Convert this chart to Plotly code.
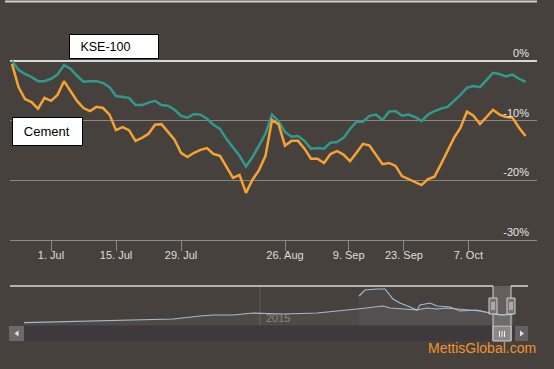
import plotly.graph_objects as go

# ---------------- data ----------------
tick_days = [6, 16, 26, 42, 51.8, 60.3, 70.2]
tick_labels = ["1. Jul", "15. Jul", "29. Jul", "26. Aug", "9. Sep", "23. Sep", "7. Oct"]

kse100 = [0, -1.5, -2.2, -2.7, -3.4, -3.4, -3.0, -2.3, -0.7, -1.3,
          -2.5, -3.5, -3.4, -3.4, -3.7, -4.4, -5.9, -6.0, -6.2, -7.4,
          -7.4, -7.0, -6.7, -7.4, -7.5, -8.2, -9.2, -9.5, -8.9, -9.0,
          -9.7, -10.7, -11.4, -13.1, -14.6, -15.9, -17.7, -16.1, -14.2, -12.2,
          -9.0, -10.1, -11.9, -12.7, -12.6, -13.4, -14.7, -14.6, -14.7, -13.7,
          -13.6, -12.9, -11.4, -10.2, -10.2, -9.2, -9.0, -9.9, -8.5, -8.4,
          -9.2, -9.0, -9.4, -10.1, -9.0, -8.4, -8.0, -7.7, -6.7, -5.7,
          -4.5, -4.2, -4.4, -3.2, -2.0, -2.2, -2.6, -2.3, -3.0, -3.5]

cement = [-0.5, -4.4, -6.4, -6.9, -8.0, -6.2, -6.7, -5.7, -3.4, -5.0,
          -6.7, -7.9, -8.4, -7.7, -7.9, -9.0, -11.6, -11.1, -11.6, -13.4,
          -12.9, -12.2, -10.7, -10.6, -11.9, -13.2, -15.4, -16.1, -15.4, -14.9,
          -14.6, -15.6, -15.9, -17.8, -19.6, -19.1, -22.1, -19.9, -18.3, -15.9,
          -9.9, -10.6, -14.2, -13.4, -13.4, -14.7, -16.4, -16.4, -17.1, -15.6,
          -15.1, -15.7, -16.8, -15.4, -13.9, -14.2, -15.7, -17.3, -17.1, -17.6,
          -19.3, -19.8, -20.3, -20.8, -19.8, -19.4, -17.3, -15.1, -12.9, -11.2,
          -8.5, -9.2, -10.6, -9.4, -8.2, -9.0, -9.4, -9.5, -11.2, -12.6]

days = list(range(len(kse100)))

y_ticks = [0, -10, -20, -30]
y_labels = ["0%", "-10%", "-20%", "-30%"]

# navigator (long history overview, arbitrary level units)
nav_t_a = [0, 69, 109, 149, 176, 189, 209, 229, 259, 293, 333, 359, 366, 383,
           393, 403, 413, 423, 433, 446, 456, 466, 479, 489]
nav_a = [2.3, 4, 5, 6, 9, 10, 10, 12, 11, 12, 16, 19, 17, 16,
         15, 17, 16, 17, 16, 15, 14, 12, 10, 11]
nav_t_b = [335, 341, 353, 361, 369, 376, 386, 393, 396, 406, 413, 426, 436,
           453, 466, 476, 489]
nav_b = [29, 35, 36, 36, 26, 22, 18, 15, 20, 22, 19, 18, 14, 15, 12, 10, 11]
nav_year_label = "2015"

# ---------------- layout helpers ----------------
W, H = 554, 369
BG = "#47413d"


def px(x):
    return x / W


def py(y):
    return 1 - y / H


def rect(x0, y0, x1, y1, fill, line=None, lw=0, layer="above"):
    return dict(type="rect", xref="paper", yref="paper",
                x0=px(x0), x1=px(x1), y0=py(y0), y1=py(y1),
                fillcolor=fill, line=dict(color=line or fill, width=lw),
                layer=layer)


def seg(x0, y0, x1, y1, color, w=1):
    return dict(type="line", xref="paper", yref="paper",
                x0=px(x0), x1=px(x1), y0=py(y0), y1=py(y1),
                line=dict(color=color, width=w))


def tri(pts, color):
    d = "M " + " L ".join(f"{px(a):.5f},{py(b):.5f}" for a, b in pts) + " Z"
    return dict(type="path", xref="paper", yref="paper", path=d,
                fillcolor=color, line=dict(color=color, width=0))


fig = go.Figure()

fig.add_trace(go.Scatter(x=days, y=kse100, mode="lines", name="KSE-100",
                         line=dict(color="#2f9a8d", width=2.5),
                         hoverinfo="skip"))
fig.add_trace(go.Scatter(x=days, y=cement, mode="lines", name="Cement",
                         line=dict(color="#f6a234", width=2.5),
                         hoverinfo="skip"))

# navigator series
fig.add_trace(go.Scatter(x=nav_t_a, y=nav_a, mode="lines", xaxis="x2", yaxis="y2",
                         line=dict(color="#a3bccd", width=1.2),
                         fill="tozeroy", fillcolor="rgba(170,200,220,0.07)",
                         hoverinfo="skip"))
fig.add_trace(go.Scatter(x=nav_t_b, y=nav_b, mode="lines", xaxis="x2", yaxis="y2",
                         line=dict(color="#a3bccd", width=1.2),
                         fill="tozeroy", fillcolor="rgba(170,200,220,0.05)",
                         hoverinfo="skip"))

shapes = [
    # thin frame line at very top
    seg(5, 1.5, 537, 1.5, "#cfcfcf", 2),
    # scrollbar track & buttons
    rect(10, 326, 528, 341, "#3d393c", layer="below"),
    rect(9, 326, 24, 341, "#6d696a"),
    tri([(18.5, 330.5), (18.5, 336.5), (14.5, 333.5)], "#e0e0e0"),
    rect(515, 326, 528, 341, "#656163"),
    tri([(520, 330.5), (520, 336.5), (524, 333.5)], "#e0e0e0"),
    # navigator year gridline
    seg(260, 286, 260, 325, "rgba(255,255,255,0.16)", 1),
    # navigator selected mask
    rect(493, 286, 511, 325, "rgba(255,255,255,0.16)"),
    # navigator outline
    seg(10, 286, 493, 286, "#d8d8d8", 1.5),
    seg(511, 286, 528, 286, "#d8d8d8", 1.5),
    seg(493, 286, 493, 341, "#d0d0d0", 1),
    seg(511, 286, 511, 341, "#d0d0d0", 1),
    # scrollbar thumb
    rect(493, 326, 511, 341, "#8b8788", "#d0d0d0", 1),
    seg(499.5, 331, 499.5, 337, "#f0f0f0", 1),
    seg(502, 331, 502, 337, "#f0f0f0", 1),
    seg(504.5, 331, 504.5, 337, "#f0f0f0", 1),
    # handles
    rect(489, 298, 497, 314, "#76726f", "#d0d0d0", 1),
    seg(492, 302, 492, 310, "#e0e0e0", 1),
    seg(494, 302, 494, 310, "#e0e0e0", 1),
    rect(507, 298, 515, 314, "#76726f", "#d0d0d0", 1),
    seg(510, 302, 510, 310, "#e0e0e0", 1),
    seg(512, 302, 512, 310, "#e0e0e0", 1),
]

nb = "\u00a0"
annotations = [
    dict(xref="paper", yref="paper", x=px(69), y=py(34), xanchor="left", yanchor="top",
         text=nb * 3 + "KSE-100", showarrow=False, align="left", valign="middle",
         width=88, height=23, borderpad=0, borderwidth=1, bordercolor="#000000",
         bgcolor="#ffffff", font=dict(family="Liberation Sans", size=12.5, color="#000000")),
    dict(xref="paper", yref="paper", x=px(12), y=py(117), xanchor="left", yanchor="top",
         text=nb * 3 + "Cement", showarrow=False, align="left", valign="middle",
         width=69, height=27, borderpad=0, borderwidth=1, bordercolor="#000000",
         bgcolor="#ffffff", font=dict(family="Liberation Sans", size=13, color="#000000")),
    dict(xref="paper", yref="paper", x=px(264), y=py(318), xanchor="left", yanchor="middle",
         text=nav_year_label, showarrow=False,
         font=dict(family="Liberation Sans", size=11, color="#8d8884")),
    dict(xref="paper", yref="paper", x=px(538), y=py(348), xanchor="right", yanchor="middle",
         text="MettisGlobal.com", showarrow=False,
         font=dict(family="Liberation Sans", size=14, color="#f3922f")),
]

fig.update_layout(
    width=W, height=H,
    margin=dict(l=0, r=0, t=0, b=0),
    paper_bgcolor=BG, plot_bgcolor=BG,
    showlegend=False,
    font=dict(family="Liberation Sans", size=11, color="#e0e0e0"),
    shapes=shapes,
    annotations=annotations,
    xaxis=dict(domain=[px(10), px(537)], range=[-0.308, 80.77],
               tickmode="array", tickvals=tick_days, ticktext=tick_labels,
               ticks="outside", ticklen=10, tickcolor="#8c8884", tickwidth=1,
               ticklabelstandoff=-5,
               showline=True, linecolor="#8c8884", linewidth=1,
               showgrid=False, zeroline=False, fixedrange=True,
               tickfont=dict(size=11, color="#dedede")),
    yaxis=dict(domain=[py(240), py(31)], range=[-30, 5], side="right",
               tickmode="array", tickvals=y_ticks, ticktext=y_labels,
               ticklabelposition="inside top", ticks="", ticklabelstandoff=5,
               showgrid=True, gridcolor="#8a8581", gridwidth=1,
               zeroline=True, zerolinecolor="#d8d8d8", zerolinewidth=1.5,
               showline=False, fixedrange=True,
               tickfont=dict(size=11, color="#e6e6e6")),
    xaxis2=dict(domain=[px(10), px(528)], range=[-14, 504], anchor="y2",
                visible=False, fixedrange=True),
    yaxis2=dict(domain=[py(325), py(286)], range=[0, 39], anchor="x2",
                visible=False, fixedrange=True),
)

fig.write_html(
    "out.html",
    config={"displayModeBar": False, "staticPlot": True},
    post_script="document.body.style.margin='0';document.body.style.background='%s';" % BG,
)
